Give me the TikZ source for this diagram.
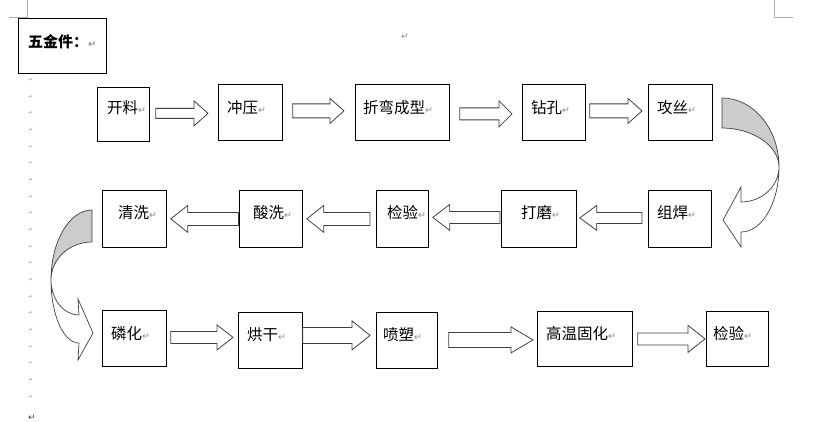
\documentclass[tikz,border=0pt]{standalone}
\usepackage{fontspec}
\setmainfont{Noto Sans CJK SC}
\newfontfamily\symfont{DejaVu Sans}
\usetikzlibrary{calc}
\definecolor{arrowgray}{RGB}{64,64,64}
\definecolor{backgray}{RGB}{204,204,204}
\definecolor{markgray}{RGB}{140,140,140}
\newcommand{\ret}{{\symfont\fontsize{9.5}{9.5}\selectfont\color{markgray}↵}}

\begin{document}
\begin{tikzpicture}[
  x=1pt, y=-1pt,
  box/.style={draw, line width=0.8pt, inner sep=0pt, anchor=north west},
  lbl/.style={anchor=west, inner sep=0pt, font=\fontsize{15.5}{18}\selectfont},
  pmark/.style={inner sep=0pt, text=markgray, font=\symfont\fontsize{5}{5}\selectfont},
  fat/.style n args={3}{draw=arrowgray, line width=0.8pt, fill=white,
    to path={let \p1=(\tikztostart), \p2=(\tikztotarget),
      \n2={ifthenelse(\x2>\x1,\x2-#3pt,\x2+#3pt)} in
      (\x1,{\y1+#1pt}) -- ({\n2*1pt},{\y1+#1pt}) -- ({\n2*1pt},{\y1+#2pt})
      -- (\x2,\y1) -- ({\n2*1pt},{\y1-#2pt}) -- ({\n2*1pt},{\y1-#1pt})
      -- (\x1,{\y1-#1pt}) -- cycle}},
  back/.style={draw=arrowgray, line width=0.7pt, fill=backgray},
  front/.style={draw=arrowgray, line width=0.7pt, fill=white}
]
\useasboundingbox (0,0) rectangle (826,422);

% page marks
\draw[markgray!70, line width=0.6pt] (27,0) -- (27,17) -- (9,17);
\draw[markgray!70, line width=0.6pt] (774,0) -- (774,17) -- (793,17);
\node[pmark, font=\symfont\fontsize{9}{9}\selectfont] (top) at (405,37) {↵};
\foreach \i in {0,...,19}
  \node[pmark] (m\i) at (31,{80+16.67*\i}) {↵};
\node[pmark, font=\symfont\fontsize{9}{9}\selectfont, text=arrowgray] (end) at (32,418) {↵};

% title
\node[box, minimum width=88, minimum height=55] (title) at (18,18) {};
\node[lbl, font=\bfseries\fontsize{15}{18}\selectfont] (title-t) at (28,42) {五金件：\ret};

% row 1
\node[box, minimum width=52, minimum height=54] (kailiao) at (97,87) {};
\node[box, minimum width=64, minimum height=56] (chongya) at (218,84) {};
\node[box, minimum width=94, minimum height=56] (zhewan) at (355,84) {};
\node[box, minimum width=63, minimum height=56] (zuankong) at (522,84) {};
\node[box, minimum width=64, minimum height=56] (gongsi) at (648,84) {};
\node[lbl] (kailiao-t) at (107,107.5) {开料\ret};
\node[lbl] (chongya-t) at (227,107.5) {冲压\ret};
\node[lbl] (zhewan-t) at (363,107.5) {折弯成型\ret};
\node[lbl] (zuankong-t) at (531,107.5) {钻孔\ret};
\node[lbl] (gongsi-t) at (657,107.5) {攻丝\ret};

% row 2
\node[box, minimum width=64, minimum height=57] (qingxi) at (102,190) {};
\node[box, minimum width=63, minimum height=57] (suanxi) at (239,190) {};
\node[box, minimum width=52, minimum height=57] (jianyan) at (376,190) {};
\node[box, minimum width=75, minimum height=57] (damo) at (501,190) {};
\node[box, minimum width=63, minimum height=57] (zuhan) at (648,190) {};
\node[lbl] (qingxi-t) at (118,213) {清洗\ret};
\node[lbl] (suanxi-t) at (253,213) {酸洗\ret};
\node[lbl] (jianyan-t) at (387,213) {检验\ret};
\node[lbl] (damo-t) at (521,213) {打磨\ret};
\node[lbl] (zuhan-t) at (657,213) {组焊\ret};

% row 3
\node[box, minimum width=64, minimum height=56] (linhua) at (102,310) {};
\node[box, minimum width=64, minimum height=56] (honggan) at (238,312) {};
\node[box, minimum width=61, minimum height=56] (pensu) at (376,312) {};
\node[box, minimum width=95, minimum height=55] (guhua) at (537,311) {};
\node[box, minimum width=62, minimum height=55] (jianyan2) at (706,311) {};
\node[lbl] (linhua-t) at (111,333.5) {磷化\ret};
\node[lbl] (honggan-t) at (247,335) {烘干\ret};
\node[lbl] (pensu-t) at (383,335) {喷塑\ret};
\node[lbl] (guhua-t) at (546,333.5) {高温固化\ret};
\node[lbl] (jianyan2-t) at (713,333.5) {检验\ret};

% block arrows
\draw[fat={5}{12.5}{14}] ([shift={(6,-1)}]kailiao.east) to ([xshift=-10]chongya.west);
\draw[fat={7}{12.5}{14}] ([shift={(10,-1.5)}]chongya.east) to ([xshift=-11]zhewan.west);
\draw[fat={6}{13}{13}] ([shift={(10,1.5)}]zhewan.east) to ([xshift=-10]zuankong.west);
\draw[fat={7}{12.5}{14}] ([shift={(4,-1.5)}]zuankong.east) to ([xshift=-6]gongsi.west);
\draw[fat={5.5}{12.5}{17}] ([shift={(-6,-1)}]zuhan.west) to ([xshift=3]damo.east);
\draw[fat={6}{13}{17}] ([shift={(-1,-1.5)}]damo.west) to ([xshift=4]jianyan.east);
\draw[fat={6.5}{13.5}{17}] ([xshift=-6]jianyan.west) to ([xshift=4]suanxi.east);
\draw[fat={6.5}{13.5}{17}] ([xshift=-0.5]suanxi.west) to ([xshift=4]qingxi.east);
\draw[fat={6}{12.5}{16}] ([shift={(4,-1)}]linhua.east) to ([xshift=-5]honggan.west);
\draw[fat={8}{14.5}{18}] ([shift={(0,-5)}]honggan.east) to ([xshift=-6]pensu.west);
\draw[fat={7.5}{13}{22}] ([shift={(11,-0.5)}]pensu.east) to ([xshift=-4]guhua.west);
\draw[fat={6}{13.5}{17}] ([xshift=5]guhua.east) to ([xshift=-1]jianyan2.west);

% curved arrow, right side
\draw[back] (722,98) .. controls (753.5,98) and (779,129) .. (779,167)
  .. controls (779,146) and (753,128) .. (722,128) -- cycle;
\draw[front] (779,167) .. controls (779,203) and (762,232) .. (741,232)
  -- (741,247) -- (723,220) -- (741,187) -- (741,202)
  .. controls (762,202) and (779,186) .. (779,167) -- cycle;

% curved arrow, left side
\draw[back] (92,210) .. controls (69.4,210) and (51,241.4) .. (51,280)
  .. controls (51,259) and (69.4,242) .. (92,242) -- cycle;
\draw[front] (51,280) .. controls (51,315) and (63.5,343) .. (79,343)
  -- (78,360) -- (93,333) -- (78,299) -- (79,315)
  .. controls (63.5,315) and (51,299) .. (51,280) -- cycle;
\end{tikzpicture}
\end{document}
